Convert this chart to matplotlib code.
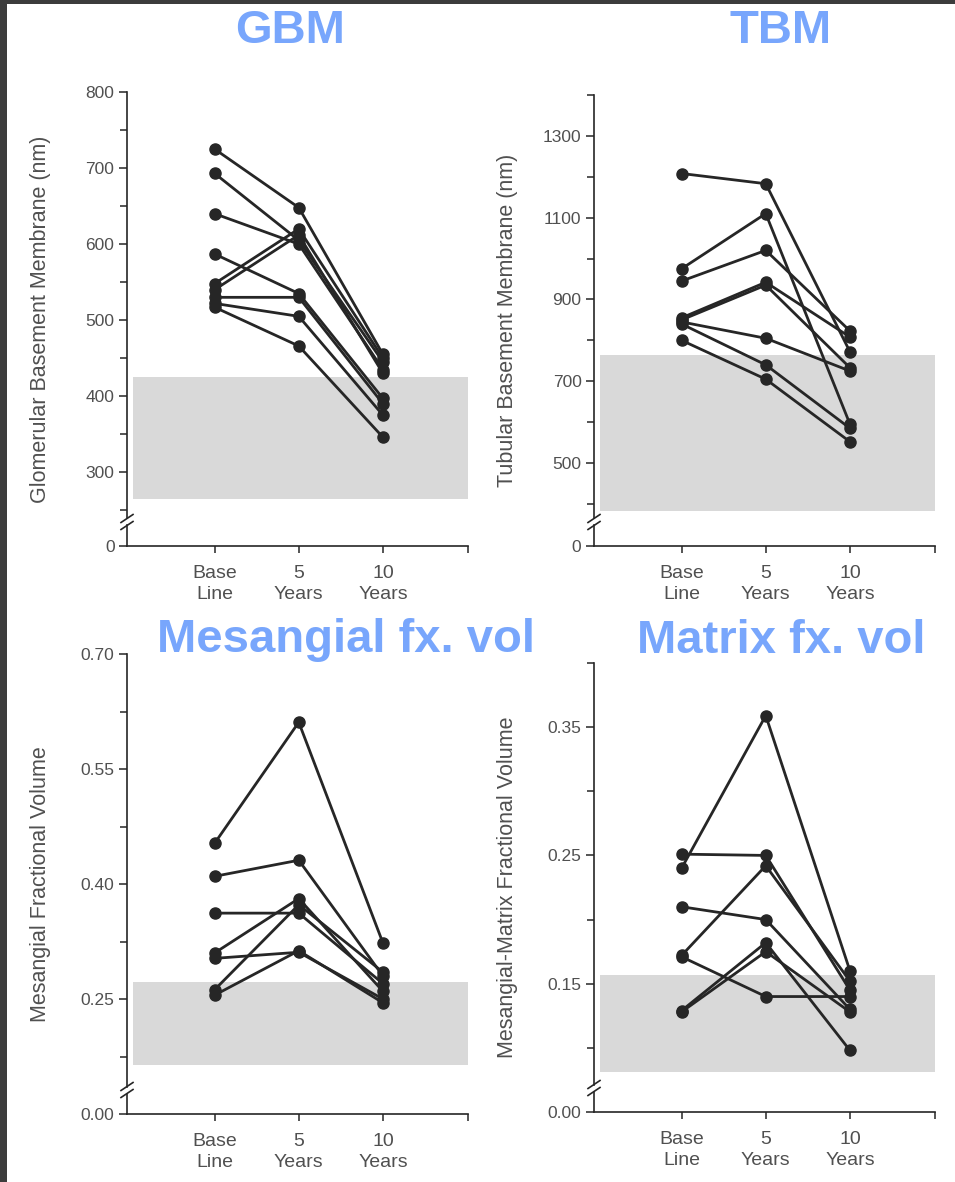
import matplotlib
matplotlib.use("Agg")
import matplotlib.pyplot as plt
from matplotlib.lines import Line2D
from matplotlib.patches import Rectangle

plt.rcParams['font.family'] = ['Liberation Sans', 'DejaVu Sans']

W, H, DPI = 955, 1182, 100

# ---- data -------------------------------------------------------------
time_labels = ["Base\nLine", "5\nYears", "10\nYears"]
time_pos = [0, 1, 2]

# Glomerular basement membrane width (nm), one entry per patient
gbm_baseline = [725, 693, 640, 587, 548, 540, 530, 522, 517]
gbm_5yr      = [648, 605, 600, 535, 620, 612, 530, 505, 466]
gbm_10yr     = [455, 445, 435, 397, 450, 430, 390, 375, 346]
gbm_normal   = (265, 425)

# Tubular basement membrane width (nm)
tbm_baseline = [1208, 975, 945, 855, 850, 845, 840, 800]
tbm_5yr      = [1183, 1110, 1020, 942, 935, 805, 740, 705]
tbm_10yr     = [772, 595, 823, 808, 733, 725, 585, 552]
tbm_normal   = (383, 764)

# Mesangial fractional volume
mes_baseline = [0.453, 0.410, 0.362, 0.310, 0.303, 0.262, 0.255]
mes_5yr      = [0.611, 0.431, 0.362, 0.381, 0.311, 0.373, 0.313]
mes_10yr     = [0.323, 0.280, 0.270, 0.260, 0.250, 0.285, 0.245]
mes_normal   = (0.164, 0.272)

# Mesangial-matrix fractional volume
mat_baseline = [0.240, 0.251, 0.210, 0.172, 0.171, 0.129, 0.128]
mat_5yr      = [0.359, 0.250, 0.200, 0.242, 0.140, 0.182, 0.175]
mat_10yr     = [0.160, 0.145, 0.130, 0.152, 0.140, 0.098, 0.128]
mat_normal   = (0.081, 0.157)

# ---- styling ----------------------------------------------------------
INK = '#262626'
TXT = '#505050'
SHADE = '#d9d9d9'
TITLE_BLUE = '#78a6fc'

fig = plt.figure(figsize=(W / DPI, H / DPI), dpi=DPI)
fig.patch.set_facecolor('white')


def panel(left, top, right, bottom):
    return fig.add_axes([left / W, 1 - bottom / H, (right - left) / W, (bottom - top) / H])


def draw_panel(ax, box, base, yr5, yr10, normal, ylim, major, major_lbl, minor, ylabel):
    left, top, right, bottom = box
    ax_w, ax_h = right - left, bottom - top
    x_lo = -1.04
    x_hi = 3.01
    ax.set_xlim(x_lo, x_hi)
    ax.set_ylim(*ylim)

    # normal range band
    ax.fill_between([x_lo + 6 / 84.5, x_hi], normal[0], normal[1],
                    color=SHADE, lw=0, zorder=0)

    # one line per patient
    for b, f, t in zip(base, yr5, yr10):
        ax.plot(time_pos, [b, f, t], color=INK, lw=2.0, marker='o',
                ms=8, mfc=INK, mec=INK, zorder=3, solid_capstyle='round')

    for s in ('top', 'right', 'left'):
        ax.spines[s].set_visible(False)
    ax.spines['bottom'].set_color(INK)
    ax.spines['bottom'].set_linewidth(1.2)

    # y axis with a break just above zero
    yc = 24 / ax_h
    gap = 3.5 / ax_h
    kw = dict(transform=ax.transAxes, color=INK, lw=1.2, clip_on=False)
    ax.add_line(Line2D([0, 0], [0, yc - gap], **kw))
    ax.add_line(Line2D([0, 0], [yc + gap, 1], **kw))
    dx, dy = 6 / ax_w, 4 / ax_h
    for yy in (yc - gap, yc + gap):
        ax.add_line(Line2D([-dx, dx], [yy - dy, yy + dy], **kw))

    ax.set_yticks(major)
    ax.set_yticklabels(major_lbl)
    ax.set_yticks(minor, minor=True)
    ax.tick_params(axis='y', which='major', direction='out', length=6,
                   width=1.1, color=INK, labelsize=12.5, labelcolor=TXT, pad=3)
    ax.tick_params(axis='y', which='minor', direction='out', length=5,
                   width=1.1, color=INK)

    ax.set_xticks(time_pos)
    ax.set_xticklabels(time_labels, linespacing=1.3)
    ax.set_xticks([x_hi], minor=True)
    ax.tick_params(axis='x', which='both', direction='out', length=5,
                   width=1.1, color=INK, labelsize=14, labelcolor=TXT, pad=9)

    ax.set_ylabel(ylabel, fontsize=15.5, color=TXT)
    ax.yaxis.set_label_coords(-0.222, 0.5)
    ax.patch.set_alpha(0)


boxes = {
    'gbm': (127, 92, 468, 546),
    'tbm': (594, 95, 935, 546),
    'mes': (127, 654, 468, 1114),
    'mat': (594, 663, 935, 1112),
}

ax1 = panel(*boxes['gbm'])
draw_panel(ax1, boxes['gbm'], gbm_baseline, gbm_5yr, gbm_10yr, gbm_normal,
           (203, 800), [203, 300, 400, 500, 600, 700, 800],
           ['0', '300', '400', '500', '600', '700', '800'],
           [250, 350, 450, 550, 650, 750],
           'Glomerular Basement Membrane (nm)')

ax2 = panel(*boxes['tbm'])
draw_panel(ax2, boxes['tbm'], tbm_baseline, tbm_5yr, tbm_10yr, tbm_normal,
           (297, 1400), [297, 500, 700, 900, 1100, 1300],
           ['0', '500', '700', '900', '1100', '1300'],
           [400, 600, 800, 1000, 1200, 1400],
           'Tubular Basement Membrane (nm)')

ax3 = panel(*boxes['mes'])
draw_panel(ax3, boxes['mes'], mes_baseline, mes_5yr, mes_10yr, mes_normal,
           (0.10, 0.70), [0.10, 0.25, 0.40, 0.55, 0.70],
           ['0.00', '0.25', '0.40', '0.55', '0.70'],
           [0.175, 0.325, 0.475, 0.625],
           'Mesangial Fractional Volume')

ax4 = panel(*boxes['mat'])
draw_panel(ax4, boxes['mat'], mat_baseline, mat_5yr, mat_10yr, mat_normal,
           (0.05, 0.40), [0.05, 0.15, 0.25, 0.35],
           ['0.00', '0.15', '0.25', '0.35'],
           [0.10, 0.20, 0.30, 0.40],
           'Mesangial-Matrix Fractional Volume')

# panel headings
for txt, (cx, cy) in [('GBM', (290, 31)), ('TBM', (781, 31)),
                      ('Mesangial fx. vol', (346, 640)),
                      ('Matrix fx. vol', (781, 641))]:
    fig.text(cx / W, 1 - cy / H, txt, ha='center', va='center',
             fontsize=34, fontweight='bold', color=TITLE_BLUE)

# dark frame along the left and top edges
fig.add_artist(Rectangle((0, 0), 7 / W, 1, transform=fig.transFigure,
                         color='#3c3c3c', lw=0, zorder=10))
fig.add_artist(Rectangle((0, 1 - 4 / H), 1, 4 / H, transform=fig.transFigure,
                         color='#3c3c3c', lw=0, zorder=10))

fig.savefig('out.png', dpi=DPI)
